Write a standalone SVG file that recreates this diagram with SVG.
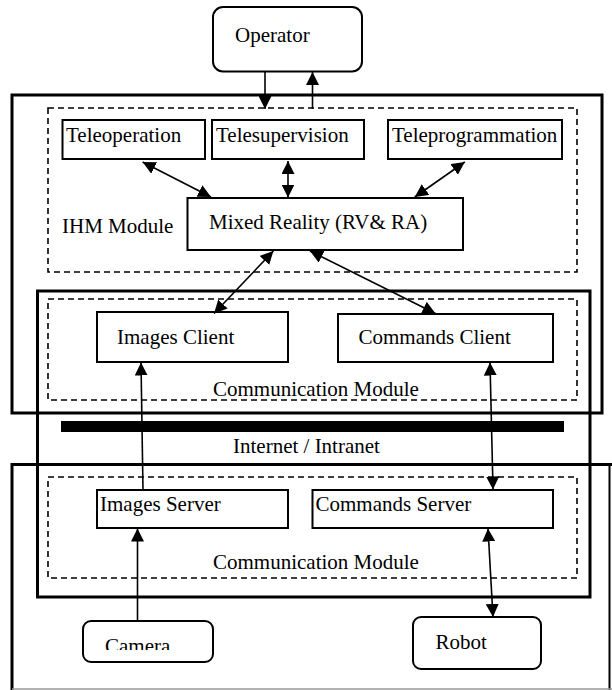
<svg xmlns="http://www.w3.org/2000/svg" width="612" height="690" viewBox="0 0 612 690">
<style>
  text { font-family: "Liberation Serif", "Times New Roman", serif; font-size: 21px; fill: #000; }
  .box { fill: #fff; stroke: #000; stroke-width: 2; }
  .rbox { fill: #fff; stroke: #000; stroke-width: 2; }
  .frame { fill: none; stroke: #000; stroke-width: 3; }
  .dash { fill: none; stroke: #000; stroke-width: 1.6; stroke-dasharray: 6 4; }
  .conn { fill: none; stroke: #000; stroke-width: 1.6; }
</style>
<defs>
  <marker id="ah" markerUnits="userSpaceOnUse" markerWidth="13" markerHeight="13" viewBox="0 0 13 13" refX="13" refY="6.5" orient="auto-start-reverse">
    <path d="M0,0 L13,6.5 L0,13 z" fill="#000"/>
  </marker>
  <clipPath id="camclip"><rect x="83" y="621" width="130" height="29"/></clipPath>
</defs>
<rect x="0" y="0" width="612" height="690" fill="#fff"/>

<g id="frames">
  <rect class="frame" x="12" y="95" width="590" height="318"/>
  <rect class="dash" x="48" y="108" width="529" height="164"/>
  <rect class="frame" x="37.5" y="291" width="552.5" height="306"/>
  <rect class="dash" x="48" y="299" width="529" height="101"/>
  <rect class="dash" x="48" y="477" width="529" height="101"/>
  <path class="frame" d="M612,464.5 H12 V690"/>
  <line x1="609.5" y1="464.5" x2="609.5" y2="690" stroke="#000" stroke-width="2"/>
  <line x1="12" y1="689" x2="612" y2="689" stroke="#999" stroke-width="1.5"/>
</g>

<g id="operator">
  <rect class="rbox" x="213" y="7" width="149" height="64.5" rx="10"/>
  <text x="235" y="42">Operator</text>
</g>
<g id="teleoperation">
  <rect class="box" x="62.5" y="120" width="142.5" height="39"/>
  <text x="66" y="142">Teleoperation</text>
</g>
<g id="telesupervision">
  <rect class="box" x="212" y="120" width="152" height="39"/>
  <text x="216" y="142">Telesupervision</text>
</g>
<g id="teleprogrammation">
  <rect class="box" x="388" y="120" width="174" height="39"/>
  <text x="392" y="142">Teleprogrammation</text>
</g>
<g id="ihm-label">
  <text x="62" y="233">IHM Module</text>
</g>
<g id="mixed-reality">
  <rect class="box" x="187.5" y="198" width="275.5" height="52"/>
  <text x="209" y="229">Mixed Reality (RV&amp; RA)</text>
</g>
<g id="images-client">
  <rect class="box" x="97" y="312" width="191" height="50"/>
  <text x="117" y="344">Images Client</text>
</g>
<g id="commands-client">
  <rect class="box" x="338" y="314" width="215" height="48"/>
  <text x="358.5" y="344">Commands Client</text>
</g>
<g id="comm-label-top">
  <text x="213" y="396">Communication Module</text>
</g>
<g id="internet">
  <rect x="61" y="421" width="503" height="11" fill="#000"/>
  <text x="233" y="453">Internet / Intranet</text>
</g>
<g id="images-server">
  <rect class="box" x="97" y="490" width="191" height="38"/>
  <text x="100" y="511">Images Server</text>
</g>
<g id="commands-server">
  <rect class="box" x="312.5" y="490" width="240.5" height="38"/>
  <text x="315.5" y="511">Commands Server</text>
</g>
<g id="comm-label-bottom">
  <text x="213" y="569">Communication Module</text>
</g>
<g id="camera">
  <rect class="rbox" x="83" y="621" width="130" height="41" rx="8"/>
  <text x="105" y="653" clip-path="url(#camclip)">Camera</text>
</g>
<g id="robot">
  <rect class="rbox" x="413" y="617" width="128" height="52" rx="8"/>
  <text x="435.5" y="649">Robot</text>
</g>

<g id="connectors">
  <line class="conn" x1="265" y1="71.5" x2="265" y2="109" marker-end="url(#ah)"/>
  <line class="conn" x1="312.5" y1="109" x2="312.5" y2="72" marker-end="url(#ah)"/>
  <line class="conn" x1="142.6" y1="162" x2="211" y2="197" marker-start="url(#ah)" marker-end="url(#ah)"/>
  <line class="conn" x1="288" y1="161" x2="288" y2="197.5" marker-start="url(#ah)" marker-end="url(#ah)"/>
  <line class="conn" x1="464.8" y1="162" x2="414.8" y2="197" marker-start="url(#ah)" marker-end="url(#ah)"/>
  <line class="conn" x1="273.4" y1="251" x2="214" y2="313.5" marker-start="url(#ah)" marker-end="url(#ah)"/>
  <line class="conn" x1="310" y1="251" x2="435.5" y2="313.5" marker-start="url(#ah)" marker-end="url(#ah)"/>
  <line class="conn" x1="143" y1="490" x2="141" y2="362.5" marker-end="url(#ah)"/>
  <line class="conn" x1="490" y1="362.5" x2="493" y2="489.5" marker-start="url(#ah)" marker-end="url(#ah)"/>
  <line class="conn" x1="137.5" y1="621" x2="137.5" y2="528.5" marker-end="url(#ah)"/>
  <line class="conn" x1="488" y1="528.5" x2="493" y2="617" marker-start="url(#ah)" marker-end="url(#ah)"/>
</g>
</svg>
